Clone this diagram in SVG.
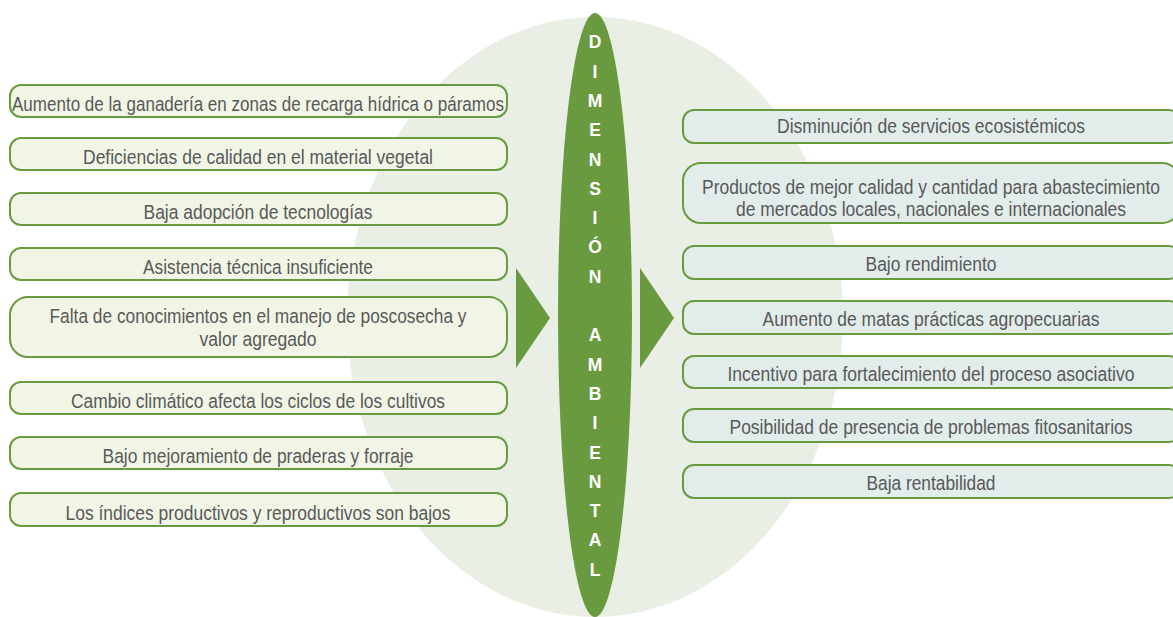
<svg xmlns="http://www.w3.org/2000/svg" width="1173" height="617" viewBox="0 0 1173 617">
  <style>
    .bg { fill: #E9EFE4; }
    .cause rect { fill: #F1F5E6; stroke: #6A9A40; stroke-width: 2; }
    .effect rect { fill: #E2ECEA; stroke: #6A9A40; stroke-width: 2; }
    .t { font-family: "Liberation Sans", Arial, sans-serif; font-size: 20.5px; fill: #595959; text-anchor: middle; }
    .core { fill: #6A9A40; }
    .v { font-family: "Liberation Sans", Arial, sans-serif; font-size: 17.5px; font-weight: bold; fill: #FFFFFF; text-anchor: middle; }
    .arrow { fill: #6A9A40; }
  </style>
  <rect width="1173" height="617" fill="#FFFFFF"/>
  <ellipse class="bg" cx="595" cy="317" rx="248" ry="300"/>

  <g id="connectors">
    <polygon class="arrow" points="516,268 550,318 516,368"/>
    <polygon class="arrow" points="640,268 674,318 640,368"/>
  </g>

  <g id="center">
    <ellipse class="core" cx="595" cy="315" rx="37" ry="302"/>
    <text class="v" x="595" y="48.3">D</text>
    <text class="v" x="595" y="77.6">I</text>
    <text class="v" x="595" y="106.9">M</text>
    <text class="v" x="595" y="136.2">E</text>
    <text class="v" x="595" y="165.5">N</text>
    <text class="v" x="595" y="194.8">S</text>
    <text class="v" x="595" y="224.1">I</text>
    <text class="v" x="595" y="253.4">Ó</text>
    <text class="v" x="595" y="282.7">N</text>
    <text class="v" x="595" y="341.3">A</text>
    <text class="v" x="595" y="370.6">M</text>
    <text class="v" x="595" y="399.9">B</text>
    <text class="v" x="595" y="429.2">I</text>
    <text class="v" x="595" y="458.5">E</text>
    <text class="v" x="595" y="487.8">N</text>
    <text class="v" x="595" y="517.1">T</text>
    <text class="v" x="595" y="546.4">A</text>
    <text class="v" x="595" y="575.7">L</text>
  </g>

  <g id="cause1" class="cause"><rect x="10" y="85" width="497" height="32" rx="11"/><text class="t" x="258" y="111" textLength="492" lengthAdjust="spacingAndGlyphs">Aumento de la ganadería en zonas de recarga hídrica o páramos</text></g>
  <g id="cause2" class="cause"><rect x="10" y="138" width="497" height="32" rx="11"/><text class="t" x="258" y="163.5" textLength="350" lengthAdjust="spacingAndGlyphs">Deficiencias de calidad en el material vegetal</text></g>
  <g id="cause3" class="cause"><rect x="10" y="193" width="497" height="32" rx="11"/><text class="t" x="258" y="218.5" textLength="229" lengthAdjust="spacingAndGlyphs">Baja adopción de tecnologías</text></g>
  <g id="cause4" class="cause"><rect x="10" y="248" width="497" height="32" rx="11"/><text class="t" x="258" y="273.5" textLength="230" lengthAdjust="spacingAndGlyphs">Asistencia técnica insuficiente</text></g>
  <g id="cause5" class="cause"><rect x="10" y="297" width="497" height="60" rx="18"/><text class="t" x="258" y="323" textLength="417" lengthAdjust="spacingAndGlyphs">Falta de conocimientos en el manejo de poscosecha y</text><text class="t" x="258" y="346" textLength="117" lengthAdjust="spacingAndGlyphs">valor agregado</text></g>
  <g id="cause6" class="cause"><rect x="10" y="382" width="497" height="32" rx="11"/><text class="t" x="258" y="408" textLength="374" lengthAdjust="spacingAndGlyphs">Cambio climático afecta los ciclos de los cultivos</text></g>
  <g id="cause7" class="cause"><rect x="10" y="437" width="497" height="32" rx="11"/><text class="t" x="258" y="463" textLength="311" lengthAdjust="spacingAndGlyphs">Bajo mejoramiento de praderas y forraje</text></g>
  <g id="cause8" class="cause"><rect x="10" y="493" width="497" height="33" rx="11"/><text class="t" x="258" y="519.5" textLength="385" lengthAdjust="spacingAndGlyphs">Los índices productivos y reproductivos son bajos</text></g>

  <g id="effect1" class="effect"><rect x="683" y="110" width="497" height="33" rx="11"/><text class="t" x="931" y="133" textLength="308" lengthAdjust="spacingAndGlyphs">Disminución de servicios ecosistémicos</text></g>
  <g id="effect2" class="effect"><rect x="683" y="163" width="497" height="60" rx="18"/><text class="t" x="931" y="194" textLength="458" lengthAdjust="spacingAndGlyphs">Productos de mejor calidad y cantidad para abastecimiento</text><text class="t" x="931" y="216" textLength="390" lengthAdjust="spacingAndGlyphs">de mercados locales, nacionales e internacionales</text></g>
  <g id="effect3" class="effect"><rect x="683" y="246" width="497" height="33" rx="11"/><text class="t" x="931" y="271" textLength="131" lengthAdjust="spacingAndGlyphs">Bajo rendimiento</text></g>
  <g id="effect4" class="effect"><rect x="683" y="301" width="497" height="33" rx="11"/><text class="t" x="931" y="325.5" textLength="337" lengthAdjust="spacingAndGlyphs">Aumento de matas prácticas agropecuarias</text></g>
  <g id="effect5" class="effect"><rect x="683" y="356" width="497" height="32" rx="11"/><text class="t" x="931" y="380.5" textLength="407" lengthAdjust="spacingAndGlyphs">Incentivo para fortalecimiento del proceso asociativo</text></g>
  <g id="effect6" class="effect"><rect x="683" y="409" width="497" height="33" rx="11"/><text class="t" x="931" y="434" textLength="403" lengthAdjust="spacingAndGlyphs">Posibilidad de presencia de problemas fitosanitarios</text></g>
  <g id="effect7" class="effect"><rect x="683" y="465" width="497" height="33" rx="11"/><text class="t" x="931" y="490" textLength="129" lengthAdjust="spacingAndGlyphs">Baja rentabilidad</text></g>
</svg>
